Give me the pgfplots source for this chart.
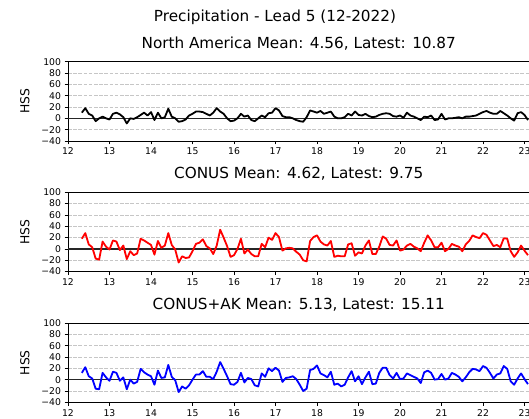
\documentclass[border=0pt]{standalone}
\usepackage{pgfplots}
\pgfplotsset{compat=1.18}
\usepackage{pgfplotstable}
\usepackage{fontspec}
\setmainfont{DejaVu Sans}

\pgfplotstableread{
m na conus ak
0 10 18 12
1 18 28 22
2 8 8 6
3 5 3 2
4 -5 -17 -16
5 0 -19 -17
6 3 13 12
7 0 4 4
8 -2 -1 -2
9 8 15 14
10 10 13 12
11 7 -2 -2
12 2 6 4
13 -9 -18 -17
14 0 -4 0
15 -1 -11 -7
16 2 -8 -4
17 6 18 19
18 10 15 13
19 5 11 9
20 11 7 6
21 -3 -10 -9
22 10 14 16
23 0 2 3
24 2 6 4
25 17 28 26
26 3 7 5
27 0 -1 -1
28 -6 -24 -22
29 -5 -13 -12
30 -2 -16 -16
31 5 -15 -10
32 8 -4 0
33 12 9 9
34 12 11 9
35 11 17 15
36 8 5 5
37 5 1 5
38 10 -9 1
39 18 6 14
40 12 34 31
41 8 20 19
42 0 5 6
43 -5 -14 -8
44 -4 -11 -9
45 0 0 -4
46 8 18 12
47 3 -8 -5
48 5 -1 3
49 -3 -9 1
50 -5 -13 -10
51 0 -13 -12
52 5 9 11
53 2 3 5
54 9 20 20
55 10 16 15
56 18 28 21
57 14 21 16
58 4 -3 -4
59 2 1 3
60 2 2 4
61 0 1 6
62 -3 -5 1
63 -5 -10 -9
64 -6 -20 -20
65 2 -22 -16
66 14 14 17
67 12 21 19
68 10 24 25
69 13 13 11
70 8 8 8
71 10 6 4
72 12 14 14
73 3 -14 -9
74 0 -12 -7
75 0 -13 -12
76 2 -13 -9
77 8 8 4
78 5 10 15
79 12 -12 -3
80 6 -6 6
81 5 -8 -8
82 8 6 4
83 4 15 14
84 2 -9 -8
85 3 -9 -7
86 6 4 12
87 8 22 21
88 9 18 21
89 8 7 8
90 4 6 2
91 3 15 12
92 5 -3 1
93 1 -1 2
94 10 6 11
95 5 9 8
96 3 4 5
97 0 1 2
98 -3 -4 -6
99 3 11 13
100 2 24 16
101 5 15 12
102 -3 3 0
103 -2 3 1
104 8 11 10
105 -2 -4 0
106 0 0 2
107 0 9 12
108 1 6 9
109 2 4 5
110 0 -4 -3
111 3 8 4
112 3 14 13
113 4 24 19
114 5 21 18
115 8 19 15
116 11 28 24
117 13 25 21
118 10 15 12
119 8 5 2
120 8 7 9
121 13 3 11
122 9 19 24
123 5 18 19
124 0 -4 -3
125 -4 -14 -9
126 9 -6 2
127 11 6 11
128 6 -3 1
129 -3 -11 -8
}\data

\pgfplotsset{panel/.style={
  scale only axis, width=461.5bp, height=79.3bp,
  xmin=12, xmax=23.12, ymin=-40, ymax=100,
  xtick={12,13,14,15,16,17,18,19,20,21,22,23},
  xticklabels={12,13,14,15,16,17,18,19,20,21,22,23},
  ytick={-40,-20,0,20,40,60,80,100},
  yticklabels={−40,−20,0,20,40,60,80,100},
  tick align=outside, tick pos=left, major tick length=3.5bp,
  every tick/.style={black, line width=0.8bp},
  axis line style={line width=0.8bp},
  ymajorgrids,
  major grid style={gray!45, line width=0.9bp, dash pattern=on 3.6bp off 1.6bp},
  tick label style={font=\fontsize{9.3}{10}\selectfont},
  ylabel={HSS},
  every axis y label/.style={at={(axis description cs:-0.0932,0.5)}, rotate=90, anchor=center, font=\fontsize{12.4}{14}\selectfont},
  title style={at={(axis description cs:0.5,1)}, anchor=base, yshift=7.7bp, font=\fontsize{15.3}{18}\selectfont},
  extra y ticks={0}, extra y tick labels={},
  extra y tick style={grid=major, major grid style={solid, black!85, line width=1.2bp}},
}}

\begin{document}
\begin{tikzpicture}
\useasboundingbox (0,0) rectangle (529bp,419bp);
\clip (0,0) rectangle (529bp,419bp);
\node[anchor=base, font=\fontsize{15.3}{18}\selectfont] at (275bp,397.8bp) {Precipitation - Lead 5 (12-2022)};

\begin{axis}[panel, at={(68bp,357.3bp)}, anchor=north west,
  title={North America Mean: 4.56, Latest: 10.87}]
\addplot[black, line width=1.8bp, line join=round] table[x expr=12+(\thisrow{m}+4)/12, y=na]{\data};
\end{axis}

\begin{axis}[panel, at={(68bp,226.7bp)}, anchor=north west,
  title={CONUS Mean: 4.62, Latest: 9.75}]
\addplot[red, line width=1.8bp, line join=round] table[x expr=12+(\thisrow{m}+4)/12, y=conus]{\data};
\end{axis}

\begin{axis}[panel, at={(68bp,96bp)}, anchor=north west,
  title={CONUS+AK Mean: 5.13, Latest: 15.11}]
\addplot[blue, line width=1.8bp, line join=round] table[x expr=12+(\thisrow{m}+4)/12, y=ak]{\data};
\end{axis}
\end{tikzpicture}
\end{document}
